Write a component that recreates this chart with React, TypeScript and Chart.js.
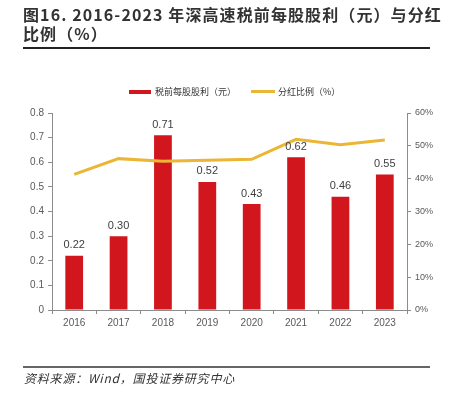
import React, { useEffect, useRef } from "react";
import { Chart, registerables } from "chart.js";

Chart.register(...registerables);

const years = ["2016", "2017", "2018", "2019", "2020", "2021", "2022", "2023"];
const dividendPerShare = [0.22, 0.3, 0.71, 0.52, 0.43, 0.62, 0.46, 0.55];
const payoutRatio = [41.3, 46.1, 45.3, 45.6, 45.9, 52.0, 50.3, 51.8];
const leftTicks = [0, 0.1, 0.2, 0.3, 0.4, 0.5, 0.6, 0.7, 0.8];
const rightTicks = [0, 10, 20, 30, 40, 50, 60];

const RED = "#D2161E";
const GOLD = "#EBB635";
const AXIS = "#8C8C8C";
const TICK_TEXT = "#595959";

const labelPlugin = {
  id: "barLabels",
  afterDatasetsDraw(chart: any) {
    const ctx = chart.ctx;
    const meta = chart.getDatasetMeta(0);
    ctx.save();
    ctx.font = "11px 'Liberation Sans', Arial, sans-serif";
    ctx.fillStyle = "#404040";
    ctx.textAlign = "center";
    ctx.textBaseline = "bottom";
    meta.data.forEach((bar: any, i: number) => {
      ctx.fillText(dividendPerShare[i].toFixed(2), bar.x, bar.y - 5);
    });
    ctx.restore();
  },
};

export default function App() {
  const ref = useRef<HTMLCanvasElement>(null);
  useEffect(() => {
    if (!ref.current) return;
    const chart = new Chart(ref.current, {
      type: "bar",
      data: {
        labels: years,
        datasets: [
          {
            type: "bar",
            label: "税前每股股利（元）",
            data: dividendPerShare,
            backgroundColor: RED,
            yAxisID: "y",
            barPercentage: 0.4,
            categoryPercentage: 1,
            order: 1,
          } as any,
          {
            type: "line",
            label: "分红比例（%）",
            data: payoutRatio,
            borderColor: GOLD,
            borderWidth: 3,
            pointRadius: 0,
            tension: 0,
            yAxisID: "y1",
            order: 0,
          } as any,
        ],
      },
      options: {
        animation: false,
        responsive: false,
        maintainAspectRatio: false,
        layout: { padding: { left: 22, right: 7, top: 113, bottom: 63 } },
        plugins: { legend: { display: false }, tooltip: { enabled: false } },
        scales: {
          x: {
            afterFit: (s: any) => { s.height = 25; },
            grid: {
              display: true,
              drawOnChartArea: false,
              drawTicks: true,
              tickLength: 4,
              color: AXIS,
              offset: true,
            },
            border: { display: true, color: AXIS, width: 1 },
            ticks: {
              color: TICK_TEXT,
              font: { size: 10, family: "'Liberation Sans', Arial, sans-serif" },
              padding: 3,
            },
          },
          y: {
            position: "left",
            min: 0,
            max: 0.8,
            afterFit: (s: any) => { s.width = 30; },
            afterBuildTicks: (s: any) => { s.ticks = leftTicks.map((v) => ({ value: v })); },
            grid: {
              display: true,
              drawOnChartArea: false,
              drawTicks: true,
              tickLength: 4,
              color: AXIS,
            },
            border: { display: true, color: AXIS, width: 1 },
            ticks: {
              color: TICK_TEXT,
              font: { size: 10, family: "'Liberation Sans', Arial, sans-serif" },
              padding: 4,
              callback: (v: any) => (Number(v) === 0 ? "0" : Number(v).toFixed(1)),
            },
          },
          y1: {
            position: "right",
            min: 0,
            max: 60,
            afterFit: (s: any) => { s.width = 35; },
            afterBuildTicks: (s: any) => { s.ticks = rightTicks.map((v) => ({ value: v })); },
            grid: {
              display: true,
              drawOnChartArea: false,
              drawTicks: true,
              tickLength: 4,
              color: AXIS,
            },
            border: { display: true, color: AXIS, width: 1 },
            ticks: {
              color: TICK_TEXT,
              font: { size: 9, family: "'Liberation Sans', Arial, sans-serif" },
              padding: 4,
              callback: (v: any) => `${v}%`,
            },
          },
        },
      } as any,
      plugins: [labelPlugin],
    });
    return () => chart.destroy();
  }, []);

  const cjk = "'Noto Sans CJK SC', 'Liberation Sans', sans-serif";
  return (
    <div style={{ position: "fixed", left: 0, top: 0, width: 449, height: 398, background: "#fff", overflow: "hidden" }}>
      <canvas ref={ref} width={449} height={398} style={{ position: "absolute", left: 0, top: 0, width: 449, height: 398 }} />
      <div
        style={{
          position: "absolute",
          left: 23,
          top: 5,
          width: 420,
          fontFamily: cjk,
          fontWeight: 700,
          fontSize: 16,
          lineHeight: "19px",
          letterSpacing: "1.1px",
          color: "#333",
          whiteSpace: "nowrap",
        }}
      >
        图16. 2016-2023 年深高速税前每股股利（元）与分红
        <br />
        比例（%）
      </div>
      <div style={{ position: "absolute", left: 23, top: 47, width: 407, height: 2, background: "#222" }} />
      <div style={{ position: "absolute", left: 129, top: 90, width: 22, height: 4, background: RED }} />
      <div style={{ position: "absolute", left: 155, top: 85, fontFamily: cjk, fontSize: 9, lineHeight: "13px", color: "#333", whiteSpace: "nowrap" }}>
        税前每股股利（元）
      </div>
      <div style={{ position: "absolute", left: 251, top: 90, width: 24, height: 3, background: GOLD }} />
      <div style={{ position: "absolute", left: 278, top: 85, fontFamily: cjk, fontSize: 9, lineHeight: "13px", color: "#333", whiteSpace: "nowrap" }}>
        分红比例（%）
      </div>
      <div style={{ position: "absolute", left: 23, top: 366, width: 407, height: 2, background: "#666" }} />
      <div
        style={{
          position: "absolute",
          left: 24,
          top: 370,
          fontFamily: cjk,
          fontStyle: "italic",
          fontSize: 12,
          lineHeight: "15px",
          letterSpacing: "0.8px",
          color: "#333",
          whiteSpace: "nowrap",
        }}
      >
        资料来源：Wind，国投证券研究中心
      </div>
    </div>
  );
}
